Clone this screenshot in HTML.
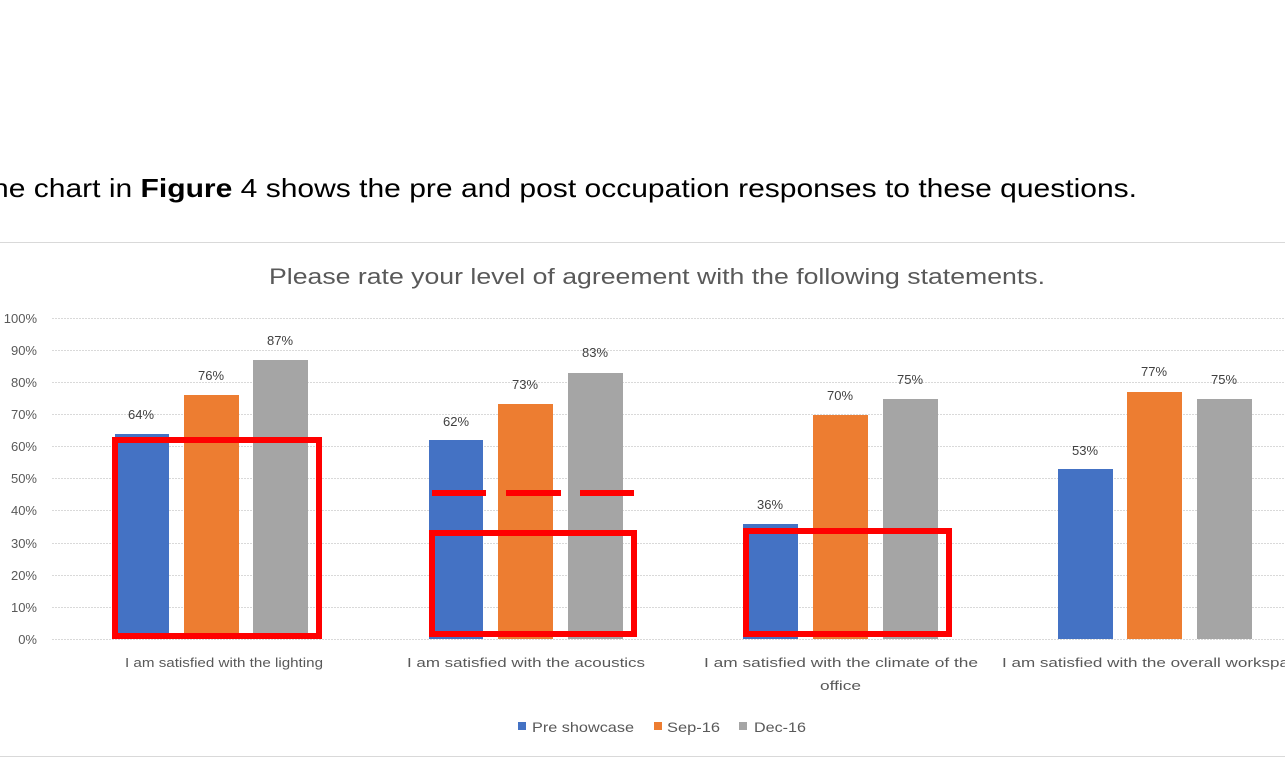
<!DOCTYPE html><html><head><style>body{margin:0;background:#fff;width:1285px;height:758px;overflow:hidden}</style></head><body>
<svg width="1285" height="758" xmlns="http://www.w3.org/2000/svg" font-family="Liberation Sans, sans-serif">
<text x="-8" y="197" font-size="26" fill="#000" textLength="1145" lengthAdjust="spacingAndGlyphs">he chart in <tspan font-weight="bold">Figure</tspan> 4 shows the pre and post occupation responses to these questions.</text>
<line x1="0" y1="242.5" x2="1285" y2="242.5" stroke="#d9d9d9"/>
<line x1="0" y1="756.5" x2="1285" y2="756.5" stroke="#d9d9d9"/>
<text x="269" y="284" font-size="22" fill="#595959" textLength="776" lengthAdjust="spacingAndGlyphs">Please rate your level of agreement with the following statements.</text>
<g stroke="#d9d9d9" stroke-width="1" stroke-dasharray="2,1">
<line x1="52" y1="318.5" x2="1285" y2="318.5"/><line x1="52" y1="350.5" x2="1285" y2="350.5"/><line x1="52" y1="382.5" x2="1285" y2="382.5"/><line x1="52" y1="414.5" x2="1285" y2="414.5"/><line x1="52" y1="446.5" x2="1285" y2="446.5"/><line x1="52" y1="478.5" x2="1285" y2="478.5"/><line x1="52" y1="510.5" x2="1285" y2="510.5"/><line x1="52" y1="543.5" x2="1285" y2="543.5"/><line x1="52" y1="575.5" x2="1285" y2="575.5"/><line x1="52" y1="607.5" x2="1285" y2="607.5"/><line x1="52" y1="639.5" x2="1285" y2="639.5"/>
</g>
<g font-size="13" fill="#595959" text-anchor="end">
<text x="37" y="323">100%</text><text x="37" y="355">90%</text><text x="37" y="387">80%</text><text x="37" y="419">70%</text><text x="37" y="451">60%</text><text x="37" y="483">50%</text><text x="37" y="515">40%</text><text x="37" y="548">30%</text><text x="37" y="580">20%</text><text x="37" y="612">10%</text><text x="37" y="644">0%</text>
</g>
<g>
<rect x="115" y="434" width="54" height="205" fill="#4472c4"/><rect x="184" y="395" width="55" height="244" fill="#ed7d31"/><rect x="253" y="360" width="55" height="279" fill="#a5a5a5"/>
<rect x="429" y="440" width="54" height="199" fill="#4472c4"/><rect x="498" y="404" width="55" height="235" fill="#ed7d31"/><rect x="568" y="373" width="55" height="266" fill="#a5a5a5"/>
<rect x="743" y="524" width="55" height="115" fill="#4472c4"/><rect x="813" y="415" width="55" height="224" fill="#ed7d31"/><rect x="883" y="399" width="55" height="240" fill="#a5a5a5"/>
<rect x="1058" y="469" width="55" height="170" fill="#4472c4"/><rect x="1127" y="392" width="55" height="247" fill="#ed7d31"/><rect x="1197" y="399" width="55" height="240" fill="#a5a5a5"/>
</g>
<g font-size="13" fill="#404040" text-anchor="middle">
<text x="141" y="419">64%</text><text x="211" y="380">76%</text><text x="280" y="345">87%</text>
<text x="456" y="426">62%</text><text x="525" y="389">73%</text><text x="595" y="357">83%</text>
<text x="770" y="509">36%</text><text x="840" y="400">70%</text><text x="910" y="384">75%</text>
<text x="1085" y="455">53%</text><text x="1154" y="376">77%</text><text x="1224" y="384">75%</text>
</g>
<g font-size="13" fill="#595959">
<text x="125" y="667" textLength="198" lengthAdjust="spacingAndGlyphs">I am satisfied with the lighting</text>
<text x="407" y="667" textLength="238" lengthAdjust="spacingAndGlyphs">I am satisfied with the acoustics</text>
<text x="704" y="667" textLength="274" lengthAdjust="spacingAndGlyphs">I am satisfied with the climate of the</text>
<text x="820" y="690" textLength="41" lengthAdjust="spacingAndGlyphs">office</text>
<text x="1002" y="667" textLength="305" lengthAdjust="spacingAndGlyphs">I am satisfied with the overall workspace</text>
</g>
<g font-size="14" fill="#595959">
<rect x="518" y="722" width="8" height="8" fill="#4472c4"/><text x="532" y="732" textLength="102" lengthAdjust="spacingAndGlyphs">Pre showcase</text>
<rect x="654" y="722" width="8" height="8" fill="#ed7d31"/><text x="667" y="732" textLength="53" lengthAdjust="spacingAndGlyphs">Sep-16</text>
<rect x="739" y="722" width="8" height="8" fill="#a5a5a5"/><text x="754" y="732" textLength="52" lengthAdjust="spacingAndGlyphs">Dec-16</text>
</g>
<g fill="none" stroke="#ff0000" stroke-width="6">
<rect x="115" y="440" width="204" height="196"/>
<rect x="432" y="533" width="202" height="101"/>
<rect x="746" y="531" width="203" height="103"/>
</g>
<g stroke="#ff0000" stroke-width="6">
<line x1="432" y1="493" x2="486" y2="493"/><line x1="506" y1="493" x2="561" y2="493"/><line x1="580" y1="493" x2="634" y2="493"/>
</g>
</svg>
</body></html>
